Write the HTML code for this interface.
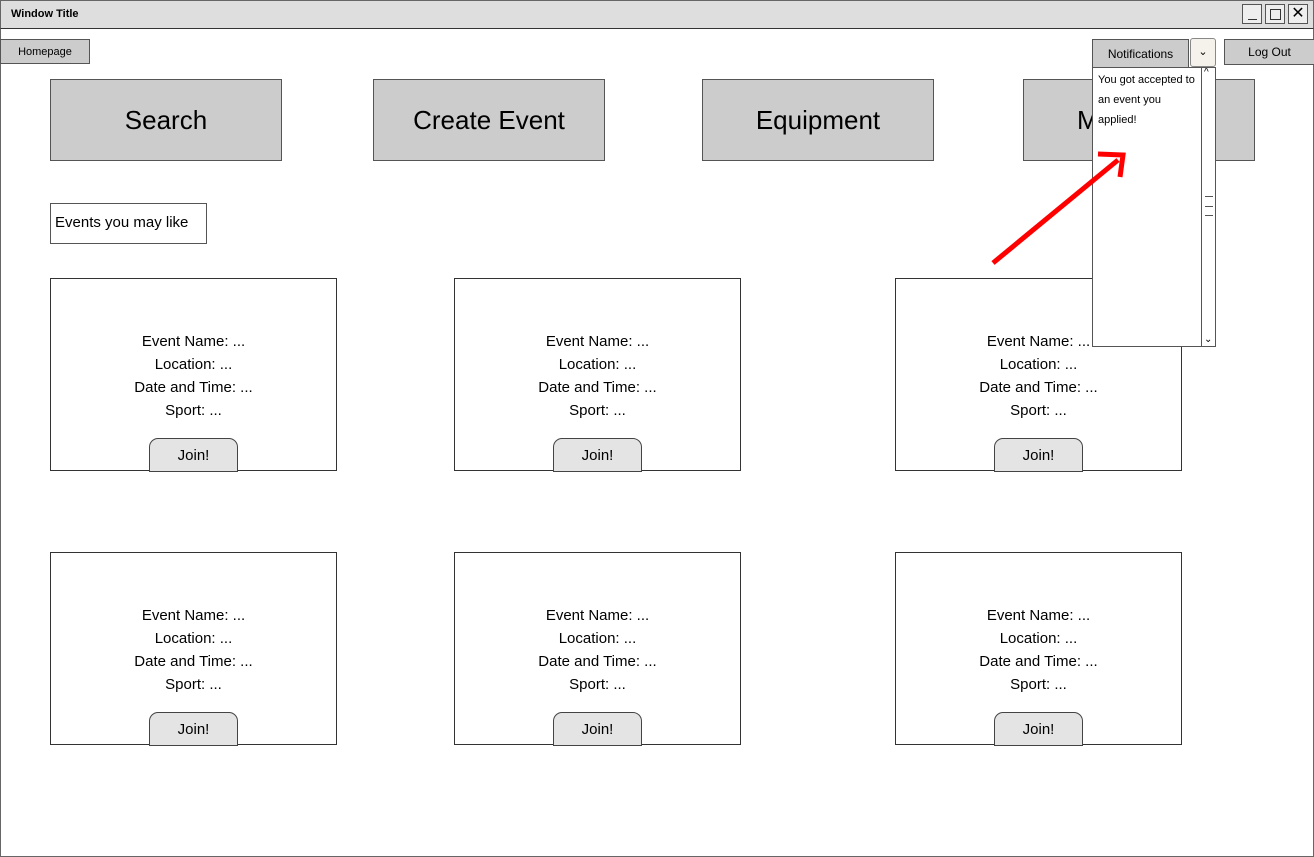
<!DOCTYPE html>
<html><head><meta charset="utf-8"><style>
*{box-sizing:border-box;margin:0;padding:0}
body{width:1314px;height:857px;position:relative;background:#fff;font-family:"Comic Sans MS","Liberation Sans",sans-serif;overflow:hidden;color:#000}
.a{position:absolute}
.win{left:0;top:0;width:1314px;height:857px;border:1px solid #666}
.title{left:0;top:0;width:1314px;height:29px;background:#dedede;border:1px solid #666;border-bottom:1px solid #333;font-size:11px;font-weight:bold;padding:7px 10px}
.ctl{top:4px;width:20px;height:20px;border:1px solid #555;background:#eee}
.btn{background:#ccc;border:1px solid #555;display:flex;align-items:center;justify-content:center}
.big{height:82px;width:232px;font-size:26px}
.card{width:287px;height:193px;border:1px solid #333;background:#fff}
.txt{left:0;width:100%;text-align:center;font-size:15px;line-height:23px;top:51px}
.join{width:89px;height:34px;background:#e4e4e4;border:1px solid #444;border-radius:9px 9px 0 0;font-size:15px;display:flex;align-items:center;justify-content:center}
</style></head><body>
<div class="a win"></div>
<div class="a title">Window Title</div>
<div class="a ctl" style="left:1242px"><div class="a" style="left:5px;top:14px;width:9px;border-top:1px solid #333"></div></div>
<div class="a ctl" style="left:1265px"><div class="a" style="left:4px;top:4px;width:11px;height:11px;border:1px solid #333"></div></div>
<div class="a ctl" style="left:1288px;font-size:16px;line-height:18px;text-align:center">✕</div>
<div class="a btn" style="left:0;top:39px;width:90px;height:25px;font-size:11px">Homepage</div>
<div class="a btn big" style="left:50px;top:79px">Search</div>
<div class="a btn big" style="left:373px;top:79px">Create Event</div>
<div class="a btn big" style="left:702px;top:79px">Equipment</div>
<div class="a btn big" style="left:1023px;top:79px;justify-content:flex-start;padding-left:53px">M</div>
<div class="a" style="left:50px;top:203px;width:157px;height:41px;border:1px solid #555;font-size:15px;padding:10px 4px">Events you may like</div>

<div class="a card" style="left:50px;top:278px"><div class="a txt">Event Name: ...<br>Location: ...<br>Date and Time: ...<br>Sport: ...</div><div class="a join" style="left:98px;top:159px">Join!</div></div>
<div class="a card" style="left:454px;top:278px"><div class="a txt">Event Name: ...<br>Location: ...<br>Date and Time: ...<br>Sport: ...</div><div class="a join" style="left:98px;top:159px">Join!</div></div>
<div class="a card" style="left:895px;top:278px"><div class="a txt">Event Name: ...<br>Location: ...<br>Date and Time: ...<br>Sport: ...</div><div class="a join" style="left:98px;top:159px">Join!</div></div>
<div class="a card" style="left:50px;top:552px"><div class="a txt">Event Name: ...<br>Location: ...<br>Date and Time: ...<br>Sport: ...</div><div class="a join" style="left:98px;top:159px">Join!</div></div>
<div class="a card" style="left:454px;top:552px"><div class="a txt">Event Name: ...<br>Location: ...<br>Date and Time: ...<br>Sport: ...</div><div class="a join" style="left:98px;top:159px">Join!</div></div>
<div class="a card" style="left:895px;top:552px"><div class="a txt">Event Name: ...<br>Location: ...<br>Date and Time: ...<br>Sport: ...</div><div class="a join" style="left:98px;top:159px">Join!</div></div>

<div class="a btn" style="left:1092px;top:39px;width:97px;height:29px;font-size:12px">Notifications</div>
<div class="a" style="left:1190px;top:38px;width:26px;height:29px;border:1px solid #888;border-radius:3px;background:#f4f2ea;font-size:11px;text-align:center;line-height:26px">⌄</div>
<div class="a btn" style="left:1224px;top:39px;width:91px;height:26px;font-size:12px">Log Out</div>
<div class="a" style="left:1092px;top:67px;width:124px;height:280px;border:1px solid #555;background:#fff;overflow:hidden">
<div class="a" style="left:5px;top:2px;width:120px;font-size:11px;line-height:20px;white-space:nowrap">You got accepted to<br>an event you<br>applied!</div>
<div class="a" style="left:108px;top:-1px;width:15px;height:280px;border-left:1px solid #555;background:#fff;font-size:10px;text-align:center">
<div class="a" style="left:2px;top:0">^</div>
<div class="a" style="left:3px;top:129px;width:8px;height:20px;border-top:1px solid #555;border-bottom:1px solid #555"><div style="margin-top:9px;border-top:1px solid #555"></div></div>
<div class="a" style="left:2px;bottom:2px">⌄</div></div>
</div>
<svg class="a" style="left:0;top:0" width="1314" height="857"><line x1="993" y1="263" x2="1118" y2="160" stroke="#f00" stroke-width="5"/><polyline points="1098,154 1123,155 1120,177" fill="none" stroke="#f00" stroke-width="5"/></svg>
</body></html>
